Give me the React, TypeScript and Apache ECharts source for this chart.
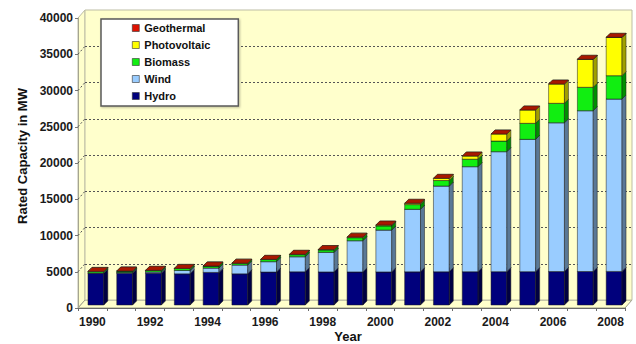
import React, { useEffect, useRef } from "react";
import * as echarts from "echarts";

// Installed capacity by source, MW
const years = [
  "1990", "1991", "1992", "1993", "1994", "1995", "1996", "1997", "1998", "1999",
  "2000", "2001", "2002", "2003", "2004", "2005", "2006", "2007", "2008",
];
const hydro = [4370, 4380, 4390, 4300, 4500, 4300, 4550, 4580, 4560, 4560, 4560, 4570, 4580, 4590, 4600, 4600, 4610, 4620, 4630];
const wind = [60, 100, 170, 480, 600, 1220, 1430, 2080, 2710, 4310, 5780, 8630, 11830, 14490, 16550, 18250, 20530, 22180, 23780];
const biomass = [200, 200, 210, 260, 270, 230, 290, 290, 330, 420, 576, 650, 760, 1030, 1470, 2210, 2680, 3230, 3220];
const photovoltaic = [2, 3, 6, 9, 12, 18, 28, 42, 54, 70, 114, 180, 300, 440, 970, 1840, 2660, 3860, 5290];
const geothermal = [0, 0, 0, 0, 0, 0, 0, 0, 0, 0, 0, 0, 0, 0, 0.2, 0.2, 0.4, 3, 6];

const yTicks = [0, 5000, 10000, 15000, 20000, 25000, 30000, 35000, 40000];
const legendOrder = ["Geothermal", "Photovoltaic", "Biomass", "Wind", "Hydro"];

const FONT = 'Arial, "Liberation Sans", Helvetica, sans-serif';
const WALL = "#ffffcc";
const DEPTH = 4;

type Layer = { name: string; values: number[]; front: string; side: string; top: string };
const layers: Layer[] = [
  { name: "Hydro", values: hydro, front: "#00007c", side: "#000042", top: "#14149a" },
  { name: "Wind", values: wind, front: "#99ccff", side: "#5a7896", top: "#bcdcff" },
  { name: "Biomass", values: biomass, front: "#11ee11", side: "#008f00", top: "#66ff66" },
  { name: "Photovoltaic", values: photovoltaic, front: "#ffff00", side: "#a0a000", top: "#ffff88" },
  { name: "Geothermal", values: geothermal, front: "#dd1100", side: "#7a0000", top: "#a81800" },
];

function layerRenderer(k: number) {
  return (params: any, api: any) => {
    const i = api.value(0);
    let base = 0;
    for (let j = 0; j < k; j++) base += layers[j].values[i];
    const top = base + layers[k].values[i];
    const pb = api.coord([i, base]);
    const pt = api.coord([i, top]);
    const w = api.size([1, 0])[0] * 0.55;
    const x0 = pb[0] - w / 2;
    const x1 = pb[0] + w / 2;
    const yb = pb[1];
    const yt = pt[1];
    const L = layers[k];
    const edge = { stroke: "#1a1a1a", lineWidth: 0.5 };
    const children: any[] = [];
    if (yb - yt > 0.01) {
      children.push({
        type: "rect",
        shape: { x: x0, y: yt, width: w, height: yb - yt },
        style: { fill: L.front, ...edge },
      });
      children.push({
        type: "polygon",
        shape: { points: [[x1, yb], [x1 + DEPTH, yb - DEPTH], [x1 + DEPTH, yt - DEPTH], [x1, yt]] },
        style: { fill: L.side, ...edge },
      });
    }
    children.push({
      type: "polygon",
      shape: { points: [[x0, yt], [x0 + DEPTH, yt - DEPTH], [x1 + DEPTH, yt - DEPTH], [x1, yt]] },
      style: { fill: L.top, ...edge },
    });
    return { type: "group", children };
  };
}

export default function App() {
  const ref = useRef<HTMLDivElement>(null);

  useEffect(() => {
    if (!ref.current) return;
    const chart = echarts.init(ref.current, null, { renderer: "svg" });

    const labelStyle = { fontFamily: FONT, fontWeight: "bold" as const, fontSize: 12, color: "#1a1a1a" };
    const gridLineColors = yTicks.map((_, i) => (i === 0 || i === yTicks.length - 1 ? "rgba(0,0,0,0)" : "#555"));
    const innerTicks = yTicks.slice(1, -1);

    const barSeries = layers.map((L, k) => ({
      type: "custom",
      name: L.name,
      xAxisIndex: 2,
      yAxisIndex: 2,
      itemStyle: { color: L.front },
      renderItem: layerRenderer(k),
      encode: { x: 0, y: 1 },
      data: years.map((_, i) => [i, L.values[i]]),
      z: 3,
    }));

    chart.setOption({
      animation: false,
      backgroundColor: "#ffffff",
      grid: [
        { left: 85, right: 4, top: 10, bottom: 44, show: true, backgroundColor: WALL, borderColor: "#bdbda5", borderWidth: 1 },
        { left: 78, right: 11, top: 18, bottom: 36 },
        { left: 81.5, right: 7.5, top: 15, bottom: 39 },
      ],
      xAxis: [
        { gridIndex: 0, type: "category", data: years, show: false },
        {
          gridIndex: 1,
          type: "category",
          data: years,
          axisLine: { show: true, lineStyle: { color: "#6a6a6a", width: 1 } },
          axisTick: { show: true, interval: 0, length: 3, lineStyle: { color: "#6a6a6a" } },
          axisLabel: { ...labelStyle, interval: 1, margin: 8 },
          splitLine: { show: false },
        },
        { gridIndex: 2, type: "category", data: years, show: false },
      ],
      yAxis: [
        {
          gridIndex: 0,
          type: "value",
          min: 0,
          max: 40000,
          interval: 5000,
          axisLine: { show: false },
          axisTick: { show: false },
          axisLabel: { show: false },
          splitLine: { show: true, lineStyle: { color: gridLineColors, type: [2, 2], width: 1 } },
        },
        {
          gridIndex: 1,
          type: "value",
          min: 0,
          max: 40000,
          interval: 5000,
          axisLine: { show: true, lineStyle: { color: "#a5a590", width: 1 } },
          axisTick: { show: true, length: 3, lineStyle: { color: "#777" } },
          axisLabel: { ...labelStyle, margin: 5, formatter: (v: number) => String(v) },
          splitLine: { show: false },
        },
        { gridIndex: 2, type: "value", min: 0, max: 40000, show: false },
      ],
      legend: {
        data: legendOrder,
        orient: "vertical",
        left: 101,
        top: 19,
        padding: [3, 28, 4, 31],
        itemWidth: 7,
        itemHeight: 7,
        itemGap: 5,
        icon: "rect",
        backgroundColor: "#ffffff",
        borderColor: "#5a5a5a",
        borderWidth: 1.5,
        shadowColor: "rgba(0,0,0,0.25)",
        shadowBlur: 2,
        shadowOffsetX: 1,
        shadowOffsetY: 1,
        itemStyle: { borderColor: "#333", borderWidth: 0.6 },
        textStyle: { fontFamily: FONT, fontWeight: "bold", fontSize: 11, color: "#111", lineHeight: 12 },
        selectedMode: false,
      },
      graphic: [
        {
          type: "polygon",
          z: -1,
          silent: true,
          shape: { points: [[78, 18], [85, 10], [85, 300], [78, 308]] },
          style: { fill: WALL, stroke: "#bdbda5", lineWidth: 1 },
        },
        {
          type: "polygon",
          z: -1,
          silent: true,
          shape: { points: [[78, 308], [85, 300], [632, 300], [625, 308]] },
          style: { fill: WALL, stroke: "#9a9a88", lineWidth: 1 },
        },
        {
          type: "text",
          x: 22,
          y: 156,
          rotation: Math.PI / 2,
          style: {
            text: "Rated Capacity in MW",
            font: `bold 13px ${FONT}`,
            fill: "#111",
            align: "center",
            verticalAlign: "middle",
          },
        },
        {
          type: "text",
          x: 348,
          y: 336,
          style: {
            text: "Year",
            font: `bold 13px ${FONT}`,
            fill: "#111",
            align: "center",
            verticalAlign: "middle",
          },
        },
      ],
      series: [
        {
          type: "custom",
          name: "wall-grid",
          silent: true,
          xAxisIndex: 1,
          yAxisIndex: 1,
          data: innerTicks.map((v) => [0, v]),
          renderItem: (params: any, api: any) => {
            const p = api.coord([0, api.value(1)]);
            const x = params.coordSys.x;
            return {
              type: "line",
              shape: { x1: x, y1: p[1], x2: x + 7, y2: p[1] - 8 },
              style: { stroke: "#555", lineWidth: 1, lineDash: [2, 2] },
            };
          },
          z: 1,
        },
        ...barSeries,
      ],
    });

    return () => chart.dispose();
  }, []);

  return (
    <div
      ref={ref}
      style={{ position: "fixed", left: 0, top: 0, width: 636, height: 344 }}
    />
  );
}
